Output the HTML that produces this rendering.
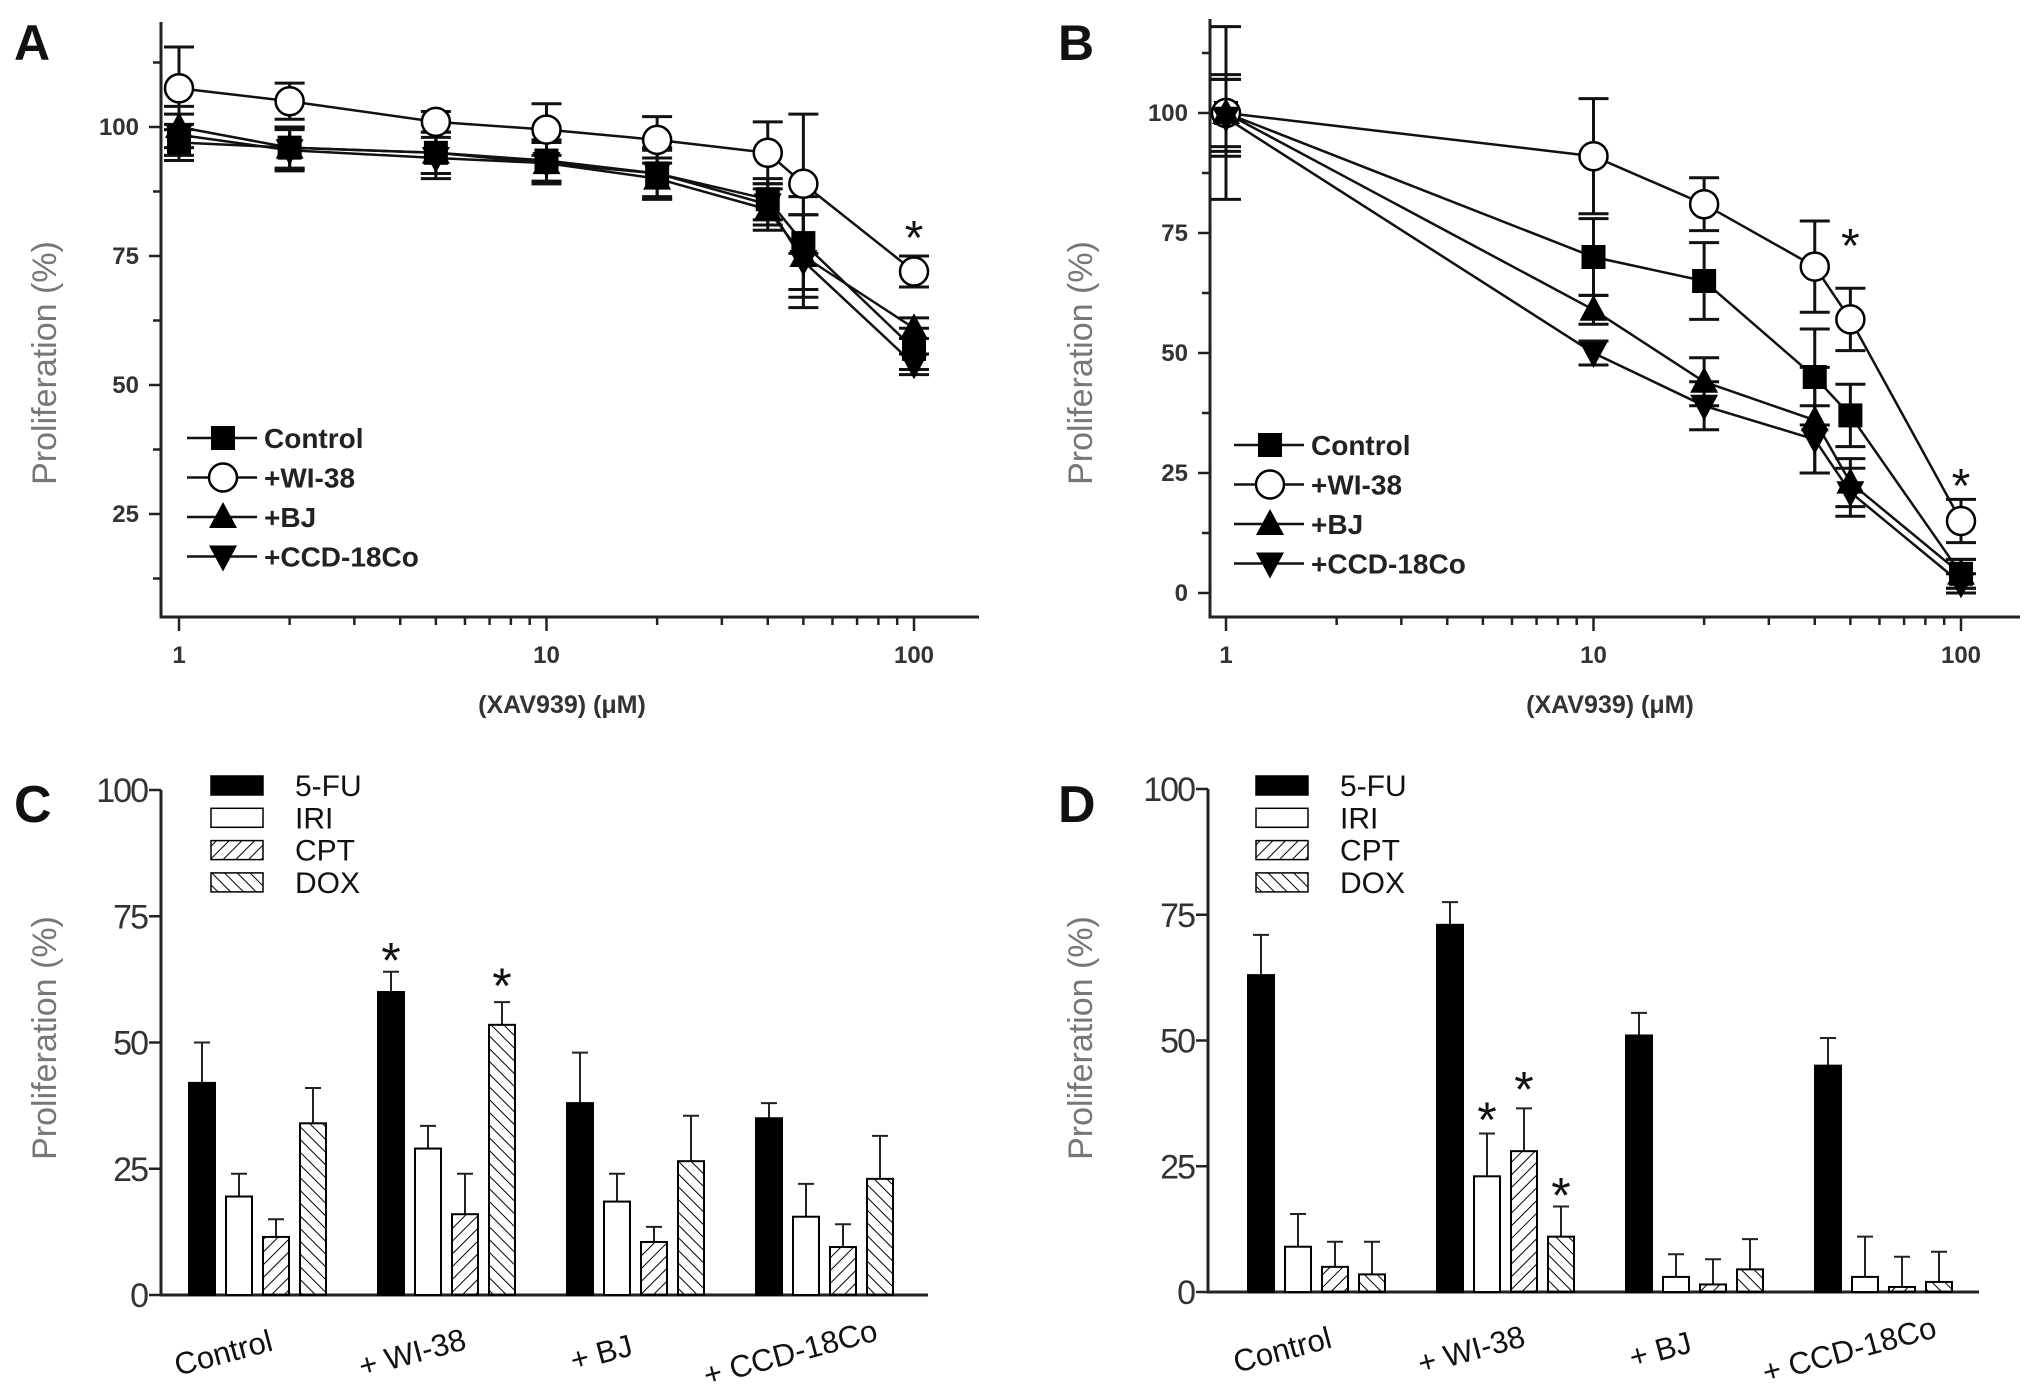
<!DOCTYPE html>
<html><head><meta charset="utf-8"><style>
html,body{margin:0;padding:0;background:#fff;}
svg{display:block;font-family:"Liberation Sans",Arial,sans-serif;}
</style></head><body>
<svg id="fig" width="2031" height="1397" viewBox="0 0 2031 1397" xmlns="http://www.w3.org/2000/svg">
<defs>
<pattern id="hatchF" patternUnits="userSpaceOnUse" width="9" height="9" patternTransform="rotate(45)"><line x1="0" y1="0" x2="0" y2="9" stroke="#000" stroke-width="2"/></pattern>
<pattern id="hatchB" patternUnits="userSpaceOnUse" width="9" height="9" patternTransform="rotate(-45)"><line x1="0" y1="0" x2="0" y2="9" stroke="#000" stroke-width="2"/></pattern>
</defs>
<g id="root"></g>
</svg>
<script>
// ---------- Panel A data ----------
const doseA = [1, 2, 5, 10, 20, 40, 50, 100];
const aControl = [97, 96, 95, 93.5, 91, 86, 77.5, 57];
const aControlErr = [3.5, 4, 4, 4, 4.5, 4, 9, 4];
const aWI38 = [107.5, 105, 101, 99.5, 97.5, 95, 89, 72];
const aWI38Err = [8, 3.5, 2, 5, 4.5, 6, 13.5, 3];
const aBJ = [100, 96, 95, 93, 90, 84, 75, 61];
const aBJErr = [4, 4, 4, 4, 4, 4, 8, 2];
const aCCD = [98.5, 95.5, 94, 93, 91, 85, 74, 54];
const aCCDErr = [4, 4, 4, 4, 5, 4, 9, 2];
const yTicksA = [25, 50, 75, 100];
const xTicksLog = [1, 10, 100];
// ---------- Panel B data ----------
const doseB = [1, 10, 20, 40, 50, 100];
const bControl = [100, 70, 65, 45, 37, 4];
const bControlErr = [7, 8, 8, 10, 6.5, 3];
const bWI38 = [100, 91, 81, 68, 57, 15];
const bWI38Err = [18, 12, 5.5, 9.5, 6.5, 4.5];
const bBJ = [100, 59, 44, 36, 23, 4];
const bBJErr = [8, 3, 5, 11, 5, 3];
const bCCD = [99, 50, 39, 32, 21, 2];
const bCCDErr = [8, 2.5, 5, 7, 5, 2];
const yTicksB = [0, 25, 50, 75, 100];
// ---------- Panel C / D data ----------
const groups = ["Control", "+ WI-38", "+ BJ", "+ CCD-18Co"];
const drugs = ["5-FU", "IRI", "CPT", "DOX"];
const c5FU = [42, 60, 38, 35], c5FUErr = [8, 4, 10, 3];
const cIRI = [19.5, 29, 18.5, 15.5], cIRIErr = [4.5, 4.5, 5.5, 6.5];
const cCPT = [11.5, 16, 10.5, 9.5], cCPTErr = [3.5, 8, 3, 4.5];
const cDOX = [34, 53.5, 26.5, 23], cDOXErr = [7, 4.5, 9, 8.5];
const d5FU = [63, 73, 51, 45], d5FUErr = [8, 4.5, 4.5, 5.5];
const dIRI = [9, 23, 3, 3], dIRIErr = [6.5, 8.5, 4.5, 8];
const dCPT = [5, 28, 1.5, 1], dCPTErr = [5, 8.5, 5, 6];
const dDOX = [3.5, 11, 4.5, 2], dDOXErr = [6.5, 6, 6, 6];
const yTicksBar = [0, 25, 50, 75, 100];

const NS = "http://www.w3.org/2000/svg";
const root = document.getElementById("root");
function mk(tag, attrs, parent) {
  const e = document.createElementNS(NS, tag);
  for (const k in attrs) e.setAttribute(k, attrs[k]);
  (parent || root).appendChild(e);
  return e;
}
function txt(s, attrs, parent) { const e = mk("text", attrs, parent); e.textContent = s; return e; }

function marker(g, type, cx, cy, name) {
  let e;
  if (type === "square") e = mk("rect", {x: cx - 12, y: cy - 12, width: 24, height: 24, fill: "#000"}, g);
  else if (type === "circle") e = mk("circle", {cx: cx, cy: cy, r: 14, fill: "#fff", stroke: "#000", "stroke-width": 2.5}, g);
  else if (type === "up") e = mk("polygon", {points: `${cx},${cy - 15} ${cx - 14},${cy + 11} ${cx + 14},${cy + 11}`, fill: "#000"}, g);
  else e = mk("polygon", {points: `${cx},${cy + 15} ${cx - 14},${cy - 11} ${cx + 14},${cy - 11}`, fill: "#000"}, g);
  
  
  return e;
}

function linePanel(cfg) {
  const g = mk("g", {});
  
  
  const X = v => cfg.x1 + Math.log10(v) * cfg.dec;
  const Y = v => cfg.y100 + (100 - v) * cfg.ppu;
  const ax = mk("path", {d: `M${cfg.ax},${cfg.top} V${cfg.axY} H${cfg.right}`, fill: "none", stroke: "#222", "stroke-width": 3}, g);
  
  
  for (let v = cfg.yMin; v <= cfg.yMax; v += 12.5) {
    const y = Y(v);
    if (y < cfg.top || y > cfg.axY) continue;
    const major = v % 25 === 0;
    mk("line", {x1: cfg.ax - (major ? 12 : 8), x2: cfg.ax, y1: y, y2: y, stroke: "#222", "stroke-width": 2.5}, g);
  }
  cfg.yTicks.forEach(v => {
    const t = txt(String(v), {x: cfg.ax - 22, y: Y(v) + 8, "text-anchor": "end", "font-size": 24, "font-weight": "bold", fill: "#333"}, g);
    
    
  });
  for (let d = 1; d <= 100; d *= 10) {
    for (let m = 1; m <= 9; m++) {
      const v = d * m; const x = X(v);
      if (x > cfg.right) continue;
      mk("line", {x1: x, x2: x, y1: cfg.axY, y2: cfg.axY + (m === 1 ? 14 : 8), stroke: "#222", "stroke-width": 2.5}, g);
      if (d === 100) break;
    }
  }
  xTicksLog.forEach(v => {
    const t = txt(String(v), {x: X(v), y: cfg.axY + 46, "text-anchor": "middle", "font-size": 24, "font-weight": "bold", fill: "#333"}, g);
    
    
  });
  const xt = txt("(XAV939) (\u03bcM)", {x: cfg.xTitleX, y: cfg.axY + 96, "text-anchor": "middle", "font-size": 25, "font-weight": "bold", fill: "#333"}, g);
  
  
  const yt = txt("Proliferation (%)", {x: 0, y: 0, transform: `translate(${cfg.yTitleX},${cfg.yTitleY}) rotate(-90)`, "text-anchor": "middle", "font-size": 34, fill: "#777"}, g);
  
  
  const pl = txt(cfg.label, {x: cfg.labelX, y: 60, "font-size": 50, "font-weight": "bold", fill: "#111"}, g);
  
  
  cfg.series.forEach(s => {
    const sg = mk("g", {}, g);
    
    
    const pts = cfg.dose.map((d, i) => `${X(d)},${Y(s.vals[i])}`).join(" ");
    const pln = mk("polyline", {points: pts, fill: "none", stroke: "#111", "stroke-width": 2.5}, sg);
    
    
    cfg.dose.forEach((d, i) => {
      const x = X(d), y1 = Y(s.vals[i] + s.err[i]), y2 = Y(s.vals[i] - s.err[i]);
      const eb = mk("path", {d: `M${x},${y1} V${y2} M${x - 15},${y1} H${x + 15} M${x - 15},${y2} H${x + 15}`, stroke: "#111", "stroke-width": 3, fill: "none"}, sg);
      
      
    });
  });
  cfg.series.forEach(s => {
    cfg.dose.forEach((d, i) => marker(g, s.m, X(d), Y(s.vals[i]), 'point-' + s.key));
  });
  cfg.stars.forEach(st => {
    const t = txt("*", {x: X(st[0]), y: Y(st[1]) + 24, "text-anchor": "middle", "font-size": 48, fill: "#111"}, g);
    
    
  });
  const lg = mk("g", {}, g);
  
  
  cfg.series.forEach((s, i) => {
    const y = cfg.legY + i * 39.5;
    const le = mk("g", {}, lg);
    
    
    mk("line", {x1: cfg.legX, x2: cfg.legX + 70, y1: y, y2: y, stroke: "#111", "stroke-width": 2.5}, le);
    marker(le, s.m, cfg.legX + 36, y, 'legend-marker');
    txt(s.label, {x: cfg.legX + 77, y: y + 10, "font-size": 28, "font-weight": "bold", fill: "#222"}, le);
  });
}

const mkSeries = (c, ce, w, we, b, be, d, de) => [
  {key: "control", label: "Control", m: "square", vals: c, err: ce},
  {key: "wi38", label: "+WI-38", m: "circle", vals: w, err: we},
  {key: "bj", label: "+BJ", m: "up", vals: b, err: be},
  {key: "ccd", label: "+CCD-18Co", m: "down", vals: d, err: de}];

linePanel({name: "panel-a", label: "A", labelX: 14, x1: 179, dec: 367.5, y100: 127, ppu: 5.16, ax: 161, top: 22, axY: 617, right: 979,
  yMin: 0, yMax: 125, yTicks: yTicksA, dose: doseA, xTitleX: 562, yTitleX: 56, yTitleY: 363, legX: 187, legY: 438,
  series: mkSeries(aControl, aControlErr, aWI38, aWI38Err, aBJ, aBJErr, aCCD, aCCDErr), stars: [[100, 80]]});
linePanel({name: "panel-b", label: "B", labelX: 1058, x1: 1226, dec: 367.5, y100: 113, ppu: 4.8, ax: 1210, top: 19, axY: 617, right: 2020,
  yMin: 0, yMax: 125, yTicks: yTicksB, dose: doseB, xTitleX: 1610, yTitleX: 1092, yTitleY: 363, legX: 1234, legY: 445,
  series: mkSeries(bControl, bControlErr, bWI38, bWI38Err, bBJ, bBJErr, bCCD, bCCDErr), stars: [[50, 74], [100, 24]]});

function barPanel(cfg) {
  const g = mk("g", {});
  
  
  const Y = v => cfg.y0 - v * cfg.ppu;
  const fills = ["#000", "#fff", "url(#hatchF)", "url(#hatchB)"];
  const keys = ["5fu", "iri", "cpt", "dox"];
  const ax = mk("path", {d: `M${cfg.ax},${Y(100)} V${cfg.y0} H${cfg.right}`, fill: "none", stroke: "#222", "stroke-width": 3}, g);
  
  
  yTicksBar.forEach(v => {
    mk("line", {x1: cfg.ax - 12, x2: cfg.ax, y1: Y(v), y2: Y(v), stroke: "#222", "stroke-width": 2.5}, g);
    const t = txt(String(v), {x: cfg.ax - 14, y: Y(v) + 12, "text-anchor": "end", "font-size": 34, fill: "#333", "letter-spacing": "-2"}, g);
    
    
  });
  const yt = txt("Proliferation (%)", {x: 0, y: 0, transform: `translate(${cfg.yTitleX},1038) rotate(-90)`, "text-anchor": "middle", "font-size": 34, fill: "#777"}, g);
  
  
  const pl = txt(cfg.label, {x: cfg.labelX, y: 822, "font-size": 52, "font-weight": "bold", fill: "#111"}, g);
  
  
  groups.forEach((gName, gi) => {
    cfg.series.forEach((s, si) => {
      const cx = cfg.x0 + gi * cfg.gap + si * 37;
      const v = s.vals[gi], e = s.err[gi];
      const eb = mk("path", {d: `M${cx},${Y(v)} V${Y(v + e)} M${cx - 8},${Y(v + e)} H${cx + 8}`, stroke: "#222", "stroke-width": 2, fill: "none"}, g);
      
      
      const r = mk("rect", {x: cx - 13, y: Y(v), width: 26, height: v * cfg.ppu, fill: fills[si], stroke: "#000", "stroke-width": 2}, g);
      
      
    });
    const lx = cfg.x0 + gi * cfg.gap + 24;
    const t = txt(gName, {x: 0, y: 0, transform: `translate(${lx},${cfg.y0 + 68}) rotate(-15)`, "text-anchor": "middle", "font-size": 31, fill: "#111"}, g);
    
    
  });
  cfg.stars.forEach(st => {
    const cx = cfg.x0 + st[0] * cfg.gap + st[1] * 37;
    const t = txt("*", {x: cx, y: Y(st[2]) + 26, "text-anchor": "middle", "font-size": 50, fill: "#111"}, g);
    
    
  });
  const lg = mk("g", {}, g);
  
  
  drugs.forEach((d, i) => {
    const y = 785 + i * 32.3;
    const le = mk("g", {}, lg);
    
    
    mk("rect", {x: cfg.legX, y: y - 9, width: 52, height: 19, fill: fills[i], stroke: "#000", "stroke-width": 1.5}, le);
    txt(d, {x: cfg.legX + 84, y: y + 11, "font-size": 30, fill: "#111"}, le);
  });
}
const barSeries = (a, ae, b, be, c, ce, d, de) => [{vals: a, err: ae}, {vals: b, err: be}, {vals: c, err: ce}, {vals: d, err: de}];
barPanel({name: "panel-c", label: "C", labelX: 14, ax: 161, y0: 1295, ppu: 5.05, right: 928, x0: 202, gap: 189, yTitleX: 56, legX: 211,
  series: barSeries(c5FU, c5FUErr, cIRI, cIRIErr, cCPT, cCPTErr, cDOX, cDOXErr), stars: [[1, 0, 68], [1, 3, 63]]});
barPanel({name: "panel-d", label: "D", labelX: 1058, ax: 1208, y0: 1292, ppu: 5.03, right: 1979, x0: 1261, gap: 189, yTitleX: 1092, legX: 1256,
  series: barSeries(d5FU, d5FUErr, dIRI, dIRIErr, dCPT, dCPTErr, dDOX, dDOXErr), stars: [[1, 1, 36], [1, 2, 42], [1, 3, 21]]});
</script>
</body></html>
